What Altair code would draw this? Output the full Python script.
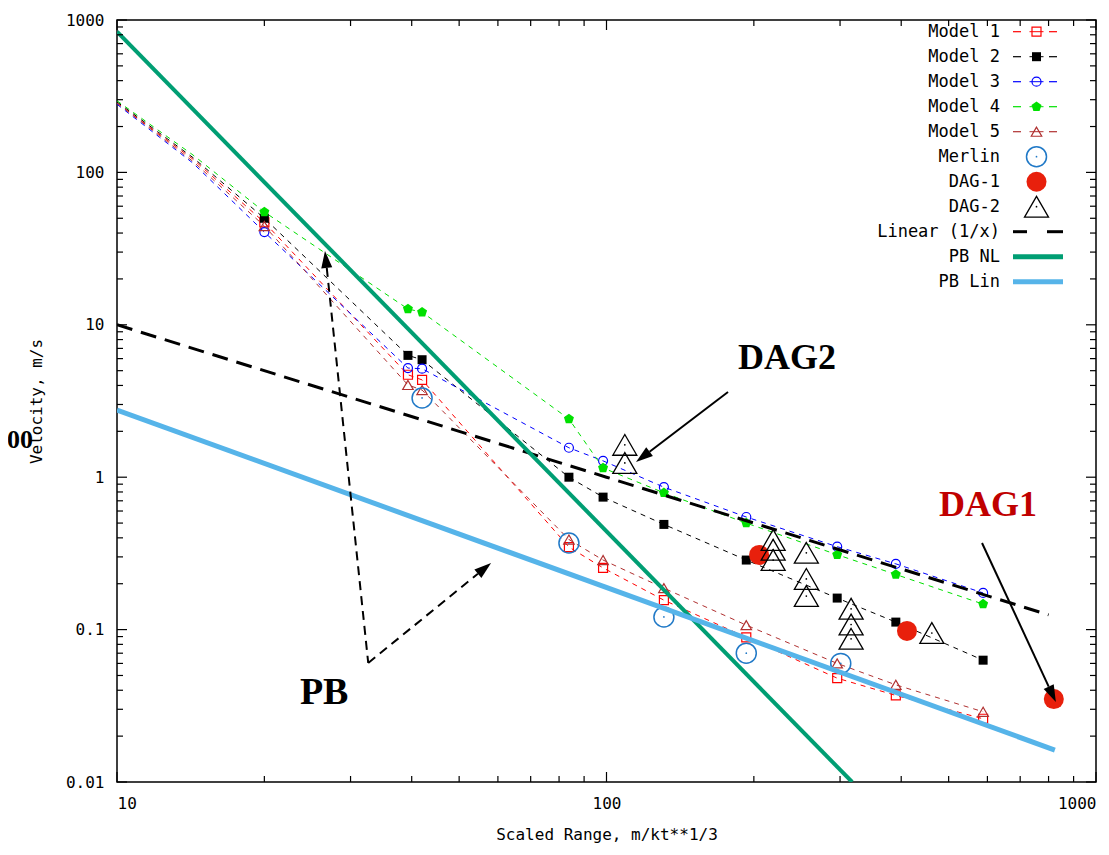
import math
import altair as alt
import pandas as pd

# ---------------- data ----------------
x_model = [10, 14.3, 20, 39.3, 42, 83.8, 98.4, 131, 193, 296, 390, 588]
n_unmarked = 2  # first vertices of model lines carry no marker
model1 = [285, 122, 47, 4.7, 4.35, 0.348, 0.254, 0.156, 0.089, 0.048, 0.037, 0.026]
model2 = [290, 125, 50, 6.3, 5.9, 1.0, 0.74, 0.49, 0.286, 0.161, 0.112, 0.063]
model3 = [280, 115, 40.6, 5.2, 5.15, 1.56, 1.28, 0.86, 0.548, 0.35, 0.27, 0.174]
model4 = [295, 130, 55, 12.7, 12.1, 2.41, 1.15, 0.79, 0.50, 0.31, 0.23, 0.147]
model5 = [285, 118, 44.5, 4.03, 3.73, 0.39, 0.286, 0.187, 0.107, 0.060, 0.0434, 0.0289]

merlin_x = [42, 83.8, 131, 193, 301]
merlin_y = [3.31, 0.37, 0.121, 0.070, 0.060]

dag1_x = [205, 411, 820]
dag1_y = [0.309, 0.098, 0.035]

dag2_x = [109, 109, 219, 219, 219, 256, 256, 256, 316, 316, 316, 462]
dag2_y = [1.63, 1.24, 0.387, 0.334, 0.286, 0.319, 0.215, 0.166, 0.137, 0.108, 0.087, 0.095]

linear_x = [10, 100, 800]
linear_y = [10, 1, 0.125]

pbnl_x = [10, 317.5]
pbnl_y = [838, 0.01]

pblin_x = [10, 824]
pblin_y = [2.76, 0.0162]

x_major = [10, 100, 1000]
x_minor = [k * 10 ** e for e in (1, 2) for k in range(2, 10)]
y_major = [0.01, 0.1, 1, 10, 100, 1000]
y_minor = [k * 10.0 ** e for e in range(-2, 3) for k in range(2, 10)]

legend_labels = ["Model 1", "Model 2", "Model 3", "Model 4", "Model 5",
                 "Merlin", "DAG-1", "DAG-2", "Linear (1/x)", "PB NL", "PB Lin"]

# annotations (data coordinates)
texts = [
    {"t": "DAG2", "x": 233.8, "y": 6.06, "c": "#000000", "s": 36},
    {"t": "DAG1", "x": 601.6, "y": 0.657, "c": "#c00000", "s": 36},
    {"t": "PB", "x": 26.5, "y": 0.0384, "c": "#000000", "s": 38},
]
arrows = [  # start (x,y) -> tip (x,y), dashed?
    (177.1, 3.62, 114.9, 1.258, False),
    (585.0, 0.370, 828.0, 0.0335, False),
    (32.6, 0.0604, 26.6, 30.5, True),
    (32.6, 0.0604, 58.1, 0.2735, True),
]

# ---------------- styling ----------------
W, H = 979, 762
MONO = "DejaVu Sans Mono"
C = {
    "m1": "#ff0000", "m2": "#000000", "m3": "#0000ff", "m4": "#00e000",
    "m5": "#b03030", "merlin": "#2079c7", "dag1": "#e8200c",
    "pbnl": "#009e73", "pblin": "#56b4e9",
}
PENTAGON = "M0,-1L0.951,-0.309L0.588,0.809L-0.588,0.809L-0.951,-0.309Z"
HEAD = "M0,-1L-0.65,1L0.65,1Z"

xs = alt.Scale(type="log", domain=[10, 1000])
ys = alt.Scale(type="log", domain=[0.01, 1000])
X = alt.X("x:Q", scale=xs, title="Scaled Range, m/kt**1/3",
          axis=alt.Axis(values=x_major, format="~g", titlePadding=15))
Y = alt.Y("y:Q", scale=ys, title="Velocity, m/s",
          axis=alt.Axis(values=y_major, format="~g", titlePadding=21))

layers = []


def df(xv, yv):
    return pd.DataFrame({"x": xv, "y": yv})


models = [
    (model1, C["m1"], "square", False, 81),
    (model2, C["m2"], "square", True, 81),
    (model3, C["m3"], "circle", False, 81),
    (model4, C["m4"], PENTAGON, True, 110),
    (model5, C["m5"], "triangle-up", False, 110),
]
for vals, col, shp, fill, sz in models:
    d = df(x_model, vals)
    layers.append(alt.Chart(d).mark_line(color=col, strokeWidth=1, strokeDash=[5, 5], clip=True)
                  .encode(x=X, y=Y, order="x:Q"))
    layers.append(alt.Chart(df(x_model[n_unmarked:], vals[n_unmarked:]))
                  .mark_point(shape=shp, filled=fill, color=col, size=sz,
                              strokeWidth=1.2, opacity=1, clip=True)
                  .encode(x=X, y=Y))

# Merlin
layers.append(alt.Chart(df(merlin_x, merlin_y)).mark_point(
    shape="circle", filled=False, color=C["merlin"], size=400, strokeWidth=1.5, opacity=1)
    .encode(x=X, y=Y))
layers.append(alt.Chart(df(merlin_x, merlin_y)).mark_point(
    shape="circle", filled=True, color=C["merlin"], size=3, opacity=1).encode(x=X, y=Y))
# DAG-1
layers.append(alt.Chart(df(dag1_x, dag1_y)).mark_point(
    shape="circle", filled=True, color=C["dag1"], size=400, opacity=1).encode(x=X, y=Y))
# DAG-2
layers.append(alt.Chart(df(dag2_x, dag2_y)).mark_point(
    shape="triangle-up", filled=False, color="black", size=576, strokeWidth=1.3, opacity=1)
    .encode(x=X, y=Y))
layers.append(alt.Chart(df(dag2_x, dag2_y)).mark_point(
    shape="circle", filled=True, color="black", size=3, opacity=1).encode(x=X, y=Y))
# Linear
layers.append(alt.Chart(df(linear_x, linear_y)).mark_line(
    color="black", strokeWidth=3, strokeDash=[16, 9], clip=True).encode(x=X, y=Y, order="x:Q"))
# PB NL / PB Lin
layers.append(alt.Chart(df(pbnl_x, pbnl_y)).mark_line(
    color=C["pbnl"], strokeWidth=4, clip=True).encode(x=X, y=Y))
layers.append(alt.Chart(df(pblin_x, pblin_y)).mark_line(
    color=C["pblin"], strokeWidth=5, clip=True).encode(x=X, y=Y))

# ---------------- annotations ----------------
for t in texts:
    layers.append(alt.Chart(pd.DataFrame([t])).mark_text(
        font="Liberation Serif", fontWeight="bold", fontSize=t["s"], color=t["c"],
        align="center", baseline="middle").encode(x=X, y=Y, text="t:N"))


def to_px(x, y):
    return W * (math.log10(x) - 1) / 2, H * (3 - math.log10(y)) / 5


def to_data(px, py):
    return 10 ** (1 + 2 * px / W), 10 ** (3 - 5 * py / H)


HEAD_R = 8.5
for x1, y1, x2, y2, dashed in arrows:
    p1 = to_px(x1, y1)
    p2 = to_px(x2, y2)
    dx, dy = p2[0] - p1[0], p2[1] - p1[1]
    L = math.hypot(dx, dy)
    ux, uy = dx / L, dy / L
    ang = math.degrees(math.atan2(ux, -uy)) % 360
    hx, hy = to_data(p2[0] - HEAD_R * ux, p2[1] - HEAD_R * uy)
    bx, by = to_data(p2[0] - 2 * HEAD_R * ux, p2[1] - 2 * HEAD_R * uy)
    kw = dict(color="black", strokeWidth=2)
    if dashed:
        kw["strokeDash"] = [9, 6]
    layers.append(alt.Chart(pd.DataFrame({"x": [x1, bx], "y": [y1, by]})).mark_line(**kw)
                  .encode(x=X, y=Y))
    layers.append(alt.Chart(pd.DataFrame({"x": [hx], "y": [hy]})).mark_point(
        shape=HEAD, filled=True, color="black", size=(2 * HEAD_R) ** 2, angle=ang, opacity=1)
        .encode(x=X, y=Y))

# partly visible "00" text at the far left
layers.append(alt.Chart(pd.DataFrame({"t": ["00"]})).mark_text(
    font="Liberation Serif", fontWeight="bold", fontSize=26, align="right",
    baseline="middle").encode(x=alt.value(-84), y=alt.value(420), text="t:N"))

# ---------------- inward ticks ----------------
MAJ, MIN = 10, 6
for vals, ln in ((x_major, MAJ), (x_minor, MIN)):
    d = pd.DataFrame({"x": vals})
    layers.append(alt.Chart(d).mark_rule(color="black", strokeWidth=1.2).encode(
        x=X, y=alt.value(H), y2=alt.value(H - ln)))
    layers.append(alt.Chart(d).mark_rule(color="black", strokeWidth=1.2).encode(
        x=X, y=alt.value(0), y2=alt.value(ln)))
for vals, ln in ((y_major, MAJ), (y_minor, MIN)):
    d = pd.DataFrame({"y": vals})
    layers.append(alt.Chart(d).mark_rule(color="black", strokeWidth=1.2).encode(
        y=Y, x=alt.value(0), x2=alt.value(ln)))
    layers.append(alt.Chart(d).mark_rule(color="black", strokeWidth=1.2).encode(
        y=Y, x=alt.value(W), x2=alt.value(W - ln)))

# ---------------- manual legend (gnuplot style) ----------------
one = pd.DataFrame({"a": [0]})
TXT_R, S0, S1, MID = 883, 896, 946, 919.5


def row_y(i):
    return 11.7 + 25 * i


for i, lab in enumerate(legend_labels):
    yy = row_y(i)
    layers.append(alt.Chart(pd.DataFrame({"t": [lab]})).mark_text(
        font=MONO, fontSize=17, align="right", baseline="middle", color="black")
        .encode(x=alt.value(TXT_R), y=alt.value(yy), text="t:N"))

for i, (vals, col, shp, fill, sz) in enumerate(models):
    yy = row_y(i)
    for a, b in ((S0, S0 + 8), (S1 - 14, S1 - 6)):
        layers.append(alt.Chart(one).mark_rule(color=col, strokeWidth=1.2).encode(
            x=alt.value(a), x2=alt.value(b), y=alt.value(yy)))
    layers.append(alt.Chart(one).mark_rule(color=col, strokeWidth=1).encode(
        x=alt.value(MID - 7), x2=alt.value(MID + 7), y=alt.value(yy)))
    layers.append(alt.Chart(one).mark_point(shape=shp, filled=fill, color=col, size=sz,
                                            strokeWidth=1.2, opacity=1)
                  .encode(x=alt.value(MID), y=alt.value(yy)))

layers.append(alt.Chart(one).mark_point(shape="circle", filled=False, color=C["merlin"],
                                        size=400, strokeWidth=1.5, opacity=1)
              .encode(x=alt.value(MID), y=alt.value(row_y(5))))
layers.append(alt.Chart(one).mark_point(shape="circle", filled=True, color=C["merlin"],
                                        size=3, opacity=1)
              .encode(x=alt.value(MID), y=alt.value(row_y(5))))
layers.append(alt.Chart(one).mark_point(shape="circle", filled=True, color=C["dag1"],
                                        size=400, opacity=1)
              .encode(x=alt.value(MID), y=alt.value(row_y(6))))
layers.append(alt.Chart(one).mark_point(shape="triangle-up", filled=False, color="black",
                                        size=576, strokeWidth=1.3, opacity=1)
              .encode(x=alt.value(MID), y=alt.value(row_y(7))))
layers.append(alt.Chart(one).mark_point(shape="circle", filled=True, color="black",
                                        size=3, opacity=1)
              .encode(x=alt.value(MID), y=alt.value(row_y(7))))
for a, b in ((S0, S0 + 14), (S1 - 16, S1)):
    layers.append(alt.Chart(one).mark_rule(color="black", strokeWidth=3).encode(
        x=alt.value(a), x2=alt.value(b), y=alt.value(row_y(8))))
layers.append(alt.Chart(one).mark_rule(color=C["pbnl"], strokeWidth=5).encode(
    x=alt.value(S0), x2=alt.value(S1), y=alt.value(row_y(9))))
layers.append(alt.Chart(one).mark_rule(color=C["pblin"], strokeWidth=5).encode(
    x=alt.value(S0), x2=alt.value(S1), y=alt.value(row_y(10))))

chart = alt.layer(*layers).properties(
    width=W, height=H, autosize="none",
    padding={"left": 109, "top": 12, "right": 5, "bottom": 65},
).configure_view(stroke="black", strokeWidth=1.5).configure_axis(
    grid=False, ticks=False, domain=False, labelFont=MONO, labelFontSize=16,
    labelColor="black", titleFont=MONO, titleFontSize=16, titleFontWeight="normal",
    titleColor="black", labelPadding=13,
)

chart.save("out.html", embed_options={"renderer": "svg", "actions": False})
